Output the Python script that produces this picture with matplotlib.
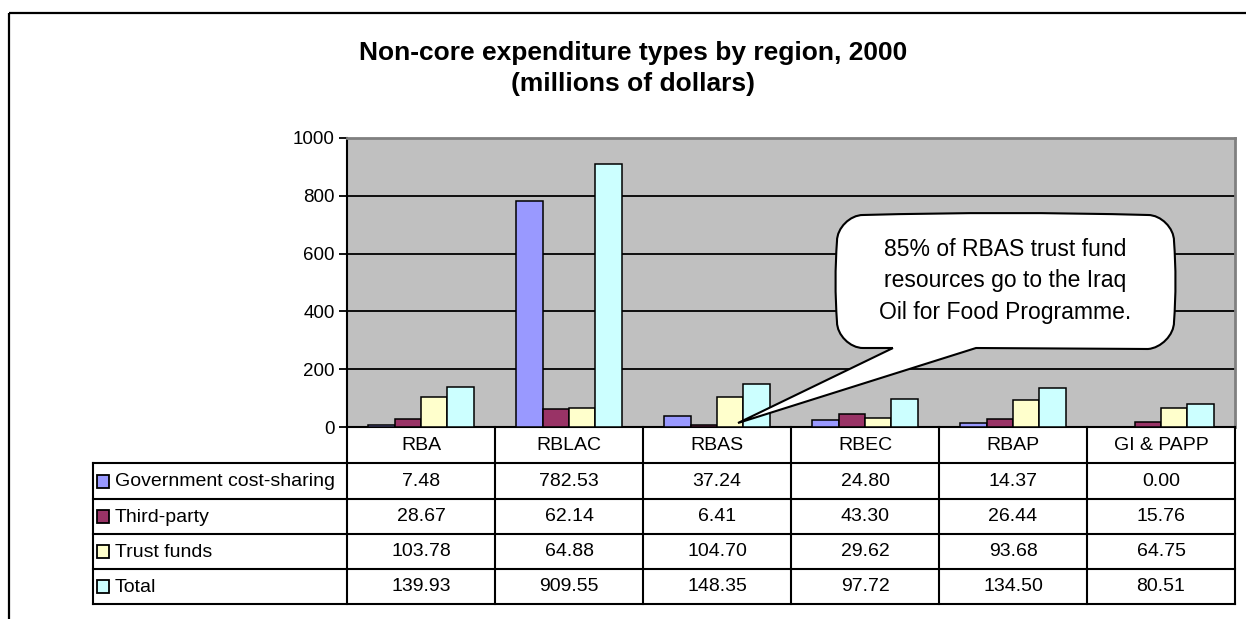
import matplotlib
matplotlib.use("Agg")
import matplotlib.pyplot as plt
import matplotlib.patches as mpatches
from matplotlib.path import Path
import numpy as np

plt.rcParams['font.family'] = ['Liberation Sans', 'DejaVu Sans']

regions = ['RBA', 'RBLAC', 'RBAS', 'RBEC', 'RBAP', 'GI & PAPP']
series = ['Government cost-sharing', 'Third-party', 'Trust funds', 'Total']
gov_cost_sharing = [7.48, 782.53, 37.24, 24.80, 14.37, 0.00]
third_party = [28.67, 62.14, 6.41, 43.30, 26.44, 15.76]
trust_funds = [103.78, 64.88, 104.70, 29.62, 93.68, 64.75]
total = [139.93, 909.55, 148.35, 97.72, 134.50, 80.51]
colors = ['#9999FF', '#993366', '#FFFFCC', '#CCFFFF']
yticks = [0, 200, 400, 600, 800, 1000]

title1 = 'Non-core expenditure types by region, 2000'
title2 = '(millions of dollars)'
note = '85% of RBAS trust fund\nresources go to the Iraq\nOil for Food Programme.'

W, H = 1246, 619
fig = plt.figure(figsize=(W / 100, H / 100), dpi=100)

# plot area in pixels
px0, px1, py0, py1 = 347, 1235, 138, 427
ax = fig.add_axes([px0 / W, 1 - py1 / H, (px1 - px0) / W, (py1 - py0) / H])
ax.set_facecolor('#C0C0C0')

values = [gov_cost_sharing, third_party, trust_funds, total]
x = np.arange(len(regions)) + 0.5
w = 0.1785
for j, (vals, col) in enumerate(zip(values, colors)):
    ax.bar(x + (j - 1.5) * w, vals, width=w, color=col, edgecolor='black',
           linewidth=1.1, zorder=3)

ax.set_xlim(0, len(regions))
ax.set_ylim(0, 1000)
ax.set_yticks(yticks)
ax.set_yticklabels([str(t) for t in yticks], fontsize=13.5)
ax.set_xticks([])
ax.tick_params(axis='y', direction='out', length=6, width=1.3, pad=3)
ax.grid(axis='y', color='black', linewidth=1.3, zorder=1)
ax.spines['left'].set_linewidth(1.5)
ax.spines['bottom'].set_linewidth(1.5)
for s in ['top', 'right']:
    ax.spines[s].set_color('#808080')
    ax.spines[s].set_linewidth(2)

# overlay in pixel coordinates for frame, table and callout
ov = fig.add_axes([0, 0, 1, 1], zorder=5)
ov.set_xlim(0, W)
ov.set_ylim(H, 0)
ov.axis('off')
ov.patch.set_visible(False)

ov.add_patch(mpatches.Rectangle((8.5, 12.5), 1300, 700, fill=False,
                                edgecolor='black', linewidth=1.6))

ov.text(633, 53, title1, fontsize=19, fontweight='bold', ha='center', va='center')
ov.text(633, 84, title2, fontsize=19, fontweight='bold', ha='center', va='center')

# data table
tx0 = 93
col_w = (px1 - px0) / len(regions)
row_edges = [427, 463, 499, 534, 569, 604]
lw = 1.5
fs = 14
for yy in row_edges[1:]:
    ov.plot([tx0, px1], [yy, yy], color='black', linewidth=lw)
ov.plot([tx0, tx0], [row_edges[1], row_edges[-1]], color='black', linewidth=lw)
for i in range(len(regions) + 1):
    xx = px0 + i * col_w
    ov.plot([xx, xx], [row_edges[0], row_edges[-1]], color='black', linewidth=lw)
for i, r in enumerate(regions):
    ov.text(px0 + (i + 0.5) * col_w, (row_edges[0] + row_edges[1]) / 2, r,
            fontsize=fs, ha='center', va='center')
for k, (name, vals, col) in enumerate(zip(series, values, colors)):
    yc = (row_edges[k + 1] + row_edges[k + 2]) / 2
    ov.add_patch(mpatches.Rectangle((96.5, yc - 6.5), 12.5, 13, facecolor=col,
                                    edgecolor='black', linewidth=1.3))
    ov.text(115, yc + 1, name, fontsize=fs, ha='left', va='center')
    for i, v in enumerate(vals):
        ov.text(px0 + (i + 0.5) * col_w, yc, f'{v:.2f}', fontsize=fs,
                ha='center', va='center')

# callout bubble with tail
bx0, bx1, by0, by1 = 837, 1174, 215, 348
r = 26
tail_l, tail_r = 893, 976
tip = (738, 423)
verts = [
    (tail_l, by1),
    tip,
    (tail_r, by1),
    (bx1 - r, by1 + 1),
    (bx1 - r / 2, by1), (bx1, by1 - r / 2), (bx1, by1 - r),
    (bx1 + 3, (by0 + by1) / 2), (bx1, by0 + r),
    (bx1, by0 + r / 2), (bx1 - r / 2, by0), (bx1 - r, by0),
    ((bx0 + bx1) / 2, by0 - 4), (bx0 + r, by0),
    (bx0 + r / 2, by0), (bx0, by0 + r / 2), (bx0, by0 + r),
    (bx0 - 3, (by0 + by1) / 2), (bx0, by1 - r),
    (bx0, by1 - r / 2), (bx0 + r / 2, by1), (bx0 + r, by1),
    (tail_l, by1),
]
codes = [Path.MOVETO, Path.LINETO, Path.LINETO, Path.LINETO,
         Path.CURVE4, Path.CURVE4, Path.CURVE4,
         Path.CURVE3, Path.CURVE3,
         Path.CURVE4, Path.CURVE4, Path.CURVE4,
         Path.CURVE3, Path.CURVE3,
         Path.CURVE4, Path.CURVE4, Path.CURVE4,
         Path.CURVE3, Path.CURVE3,
         Path.CURVE4, Path.CURVE4, Path.CURVE4,
         Path.LINETO]
ov.add_patch(mpatches.PathPatch(Path(verts, codes), facecolor='white',
                                edgecolor='black', linewidth=1.5))
ov.text(1005, 281, note, fontsize=16.5, ha='center', va='center',
        linespacing=1.45)

fig.savefig('out.png', dpi=100)
